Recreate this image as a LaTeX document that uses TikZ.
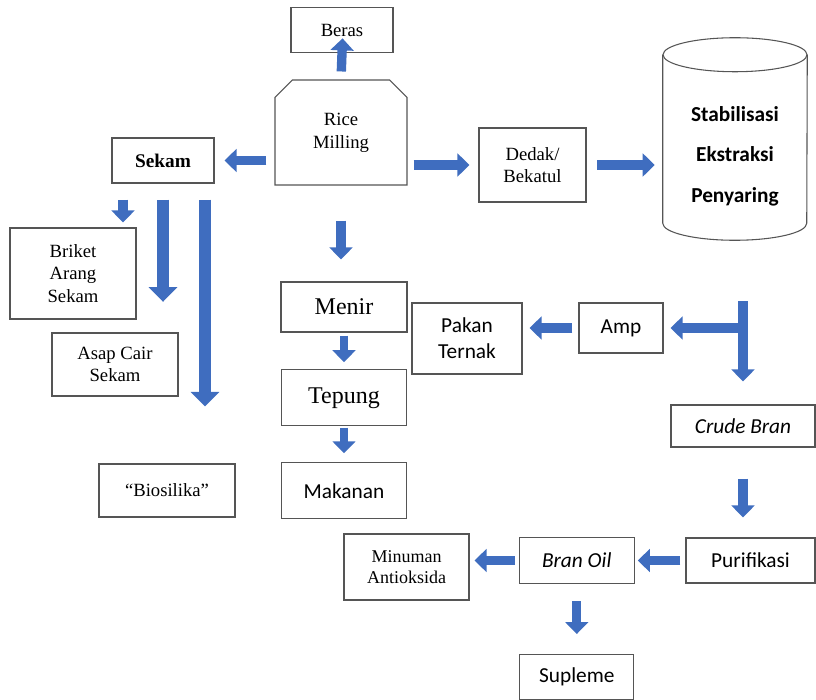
\documentclass[tikz,border=0pt]{standalone}
\usepackage{fontspec}
\setmainfont{Liberation Serif}
\newfontfamily\calibri{Carlito}
\usetikzlibrary{positioning,arrows.meta,shapes.misc}
\definecolor{flowblue}{HTML}{3F6DBF}
\definecolor{boxline}{HTML}{555555}

\begin{document}
\begin{tikzpicture}[
    x=0.75pt, y=-0.75pt,
    node distance=27.5pt and 38pt,
    box/.style={rectangle, draw=boxline, line width=0.8pt, fill=white,
        align=center, inner sep=2pt, font=\fontsize{14}{17}\selectfont},
    sansbox/.style={box, font=\calibri\fontsize{16}{19.5}\selectfont},
    italbox/.style={box, font=\calibri\itshape\fontsize{16}{19.5}\selectfont},
    bigbox/.style={box, font=\fontsize{18}{21}\selectfont},
    outline/.style={draw=boxline, line width=0.8pt},
    flow/.style={draw=flowblue, line width=7pt,
        -{Triangle[width=17pt, length=9pt]}},
    bigflow/.style={flow, line width=9pt, -{Triangle[width=21pt, length=11pt]}},
]
\useasboundingbox (0,0) rectangle (816,699);

\node[box, minimum width=76.5pt, minimum height=33.75pt] (beras) at (342,30) {Beras};

\node[box, chamfered rectangle, chamfered rectangle corners={north west, north east},
    chamfered rectangle xsep=5pt, chamfered rectangle ysep=8pt,
    minimum width=99pt, minimum height=78.75pt] (mill) at (341,132.5) {Rice\\Milling};

\node[box, font=\fontsize{14.5}{17}\selectfont\bfseries,
    minimum width=76.5pt, minimum height=33.75pt] (sekam) at (163,160.5) {Sekam};
\node[box, minimum width=94.5pt, minimum height=68.25pt] (briket) at (73,273.5)
    {Briket\\Arang\\Sekam};
\node[box, minimum width=94.5pt, minimum height=47.25pt] (asap) at (115,364.5)
    {Asap Cair\\Sekam};
\node[box, minimum width=102pt, minimum height=39.75pt] (bio) at (167,490.5)
    {``Biosilika''};

\node[box, minimum width=80.25pt, minimum height=55.5pt] (dedak) at (532.5,165)
    {Dedak/\\Bekatul};
\node[inner sep=0pt, minimum width=108pt, minimum height=151.5pt,
    label={[font=\calibri\bfseries\fontsize{16}{19.5}\selectfont, align=center,
        yshift=-12.75pt]center:{Stabilisasi\\[11pt]Ekstraksi\\[11pt]Penyaring}}]
    (cyl) at (735,139) {};
\draw[outline] ([yshift=-12.75pt]cyl.north) ellipse [x radius=54pt, y radius=12.75pt];
\draw[outline] ([yshift=-12.75pt]cyl.north west) -- ([yshift=12.75pt]cyl.south west)
    arc [start angle=180, end angle=360, x radius=54pt, y radius=12.75pt]
    -- ([yshift=-12.75pt]cyl.north east);

\node[bigbox, minimum width=94.5pt, minimum height=37.5pt] (menir) at (344,307) {Menir};
\node[bigbox, minimum width=93.75pt, minimum height=42pt, below=of menir] (tepung) {Tepung};
\node[sansbox, minimum width=93.75pt, minimum height=42pt, below=27pt of tepung] (makanan)
    {Makanan};

\node[sansbox, minimum width=63pt, minimum height=37.5pt] (amp) at (621,328) {Amp};
\node[sansbox, minimum width=82.5pt, minimum height=53.25pt] (pakan) at (467,338.5)
    {Pakan\\Ternak};
\node[italbox, minimum width=108pt, minimum height=31.5pt] (crude) at (743,426) {Crude Bran};
\node[sansbox, minimum width=96.75pt, minimum height=33.75pt] (puri) at (750.5,560.5)
    {Purifikasi};
\node[italbox, minimum width=86.25pt, minimum height=34.5pt, left=of puri] (bran) {Bran Oil};
\node[box, font=\fontsize{13.5}{16}\selectfont, minimum width=93.75pt, minimum height=49.5pt]
    (minum) at (406.5,567) {Minuman\\Antioksida};
\node[sansbox, minimum width=85.5pt, minimum height=33.75pt, below=52.5pt of bran] (supleme)
    {Supleme};

\coordinate (split) at (743,301);

\draw[flow, shorten <=6pt, shorten >=-11pt] (mill.north) -- (beras.south);
\draw[flow, shorten <=6pt, shorten >=7.5pt] (mill.west |- sekam.east) -- (sekam.east);
\draw[flow, shorten <=4.5pt, shorten >=6.75pt] (mill.east |- dedak.west) -- (dedak.west);
\draw[flow, shorten <=8pt, shorten >=6pt] (dedak.east) -- (dedak.east -| cyl.west);

\draw[flow, shorten <=12pt, shorten >=3.75pt] ([xshift=-30pt]sekam.south)
    -- ([xshift=-30pt]sekam.south |- briket.north);
\draw[bigflow, shorten <=12pt, shorten >=23pt] (sekam.south) -- (sekam.south |- asap.north);
\draw[bigflow, shorten <=12pt, shorten >=42.75pt] ([xshift=31.5pt]sekam.south)
    -- ([xshift=31.5pt]sekam.south |- bio.north);

\draw[flow, shorten <=26.25pt, shorten >=16.5pt] (mill.south) -- (mill.south |- menir.north);
\draw[flow, line width=6pt, shorten <=2.25pt, shorten >=5.25pt] (menir) -- (tepung);
\draw[flow, line width=6pt, shorten <=1pt, shorten >=6.75pt] (tepung) -- (makanan);

\draw[flow, shorten >=17.25pt] (split) -- (crude.north);
\draw[flow, shorten >=5.25pt] (split |- amp.east) -- (amp.east);
\draw[flow, shorten <=4.5pt, shorten >=5.25pt] (amp.west) -- (amp.west -| pakan.east);
\draw[flow, shorten <=23.25pt, shorten >=15pt] (crude.south) -- (crude.south |- puri.north);
\draw[flow, shorten <=3.75pt, shorten >=2.25pt] (puri.west) -- (bran.east);
\draw[flow, shorten <=3pt, shorten >=3.75pt] (bran.west) -- (bran.west -| minum.east);
\draw[flow, shorten <=12.75pt, shorten >=15pt] (bran.south) -- (bran.south |- supleme.north);

\end{tikzpicture}
\end{document}
